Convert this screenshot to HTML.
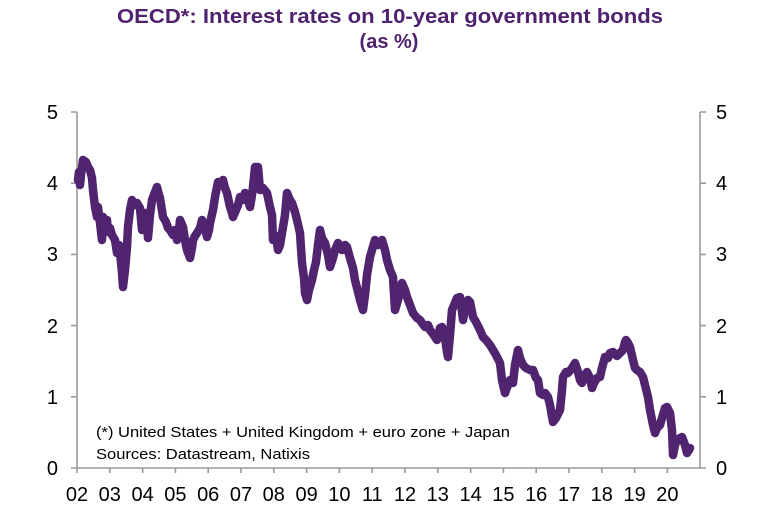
<!DOCTYPE html>
<html><head><meta charset="utf-8"><style>
html,body{margin:0;padding:0;background:#fff;}
svg{display:block;}
</style></head><body>
<svg width="768" height="526" viewBox="0 0 768 526" xmlns="http://www.w3.org/2000/svg" font-family="'Liberation Sans', Arial, sans-serif">
<rect width="768" height="526" fill="#fff"/>
<text x="117" y="23" font-size="20" font-weight="bold" fill="#4f2270" textLength="546" lengthAdjust="spacingAndGlyphs">OECD*:  Interest rates on 10-year government bonds</text>
<text x="389" y="48" font-size="20" font-weight="bold" fill="#4f2270" text-anchor="middle">(as %)</text>
<g stroke="#9a9a9a" stroke-width="1.6" fill="none">
<line x1="77" y1="112" x2="77" y2="468"/>
<line x1="700" y1="112" x2="700" y2="468"/>
<line x1="71" y1="468" x2="706" y2="468"/>
<path d="M71 112H77M71 183.2H77M71 254.4H77M71 325.6H77M71 396.8H77M700 112H706M700 183.2H706M700 254.4H706M700 325.6H706M700 396.8H706"/>
<path d="M77 468V473M109.8 468V473M142.6 468V473M175.4 468V473M208.2 468V473M241 468V473M273.8 468V473M306.6 468V473M339.4 468V473M372.2 468V473M405 468V473M437.8 468V473M470.6 468V473M503.4 468V473M536.2 468V473M569 468V473M601.8 468V473M634.6 468V473M667.4 468V473"/>
</g>
<g font-size="20" fill="#000" text-anchor="end">
<text x="58" y="119">5</text><text x="58" y="190">4</text><text x="58" y="261">3</text><text x="58" y="333">2</text><text x="58" y="404">1</text><text x="58" y="475">0</text>
</g>
<g font-size="20" fill="#000">
<text x="716" y="119">5</text><text x="716" y="190">4</text><text x="716" y="261">3</text><text x="716" y="333">2</text><text x="716" y="404">1</text><text x="716" y="475">0</text>
</g>
<g font-size="20" fill="#000" text-anchor="middle">
<text x="77" y="501">02</text><text x="109.8" y="501">03</text><text x="142.6" y="501">04</text><text x="175.4" y="501">05</text><text x="208.2" y="501">06</text><text x="241" y="501">07</text><text x="273.8" y="501">08</text><text x="306.6" y="501">09</text><text x="339.4" y="501">10</text><text x="372.2" y="501">11</text><text x="405" y="501">12</text><text x="437.8" y="501">13</text><text x="470.6" y="501">14</text><text x="503.4" y="501">15</text><text x="536.2" y="501">16</text><text x="569" y="501">17</text><text x="601.8" y="501">18</text><text x="634.6" y="501">19</text><text x="667.4" y="501">20</text>
</g>
<text x="96" y="437" font-size="15" fill="#000" textLength="414" lengthAdjust="spacingAndGlyphs">(*) United States  + United Kingdom  + euro zone  + Japan</text>
<text x="96" y="459" font-size="15" fill="#000" textLength="214" lengthAdjust="spacingAndGlyphs">Sources:  Datastream,  Natixis</text>
<polyline fill="none" stroke="#51246f" stroke-width="8.5" stroke-linejoin="round" stroke-linecap="round" points="
78,180 79,172 80,185 81,175 83,160 86,162 88,167 90,170 92,178 93,190 95,207 97,217 98,207 100,223 102,240 103,217 105,225 107,220 108,232 110,228 112,235 115,240 117,253 119,245 121,262 122,273 123,287 125,270 127,247 128,227 130,210 132,200 135,205 137,203 140,208 142,230 144,218 145,213 147,225 148,238 150,215 152,200 155,192 157,187 159,195 160,198 163,217 166,222 168,228 170,230 173,235 175,230 177,240 179,230 180,220 183,227 185,240 187,250 190,258 192,248 193,240 195,236 197,233 200,228 202,220 205,228 207,237 209,230 210,223 213,210 215,197 217,187 218,182 221,185 223,180 225,188 227,193 230,207 232,213 233,217 236,210 238,205 240,197 243,200 245,193 248,200 250,207 252,195 253,187 255,167 258,167 260,190 263,188 267,193 270,207 272,215 273,240 276,236 278,250 280,245 282,233 285,215 287,193 290,200 292,203 295,212 297,220 300,233 302,263 304,278 305,293 307,300 309,290 312,280 314,270 316,262 318,245 320,230 322,238 325,243 328,255 330,267 333,258 335,250 338,243 342,250 345,245 347,247 350,258 353,268 355,280 358,292 360,300 363,310 365,295 367,275 370,257 372,250 375,240 378,245 382,240 385,250 387,260 390,270 393,277 395,310 398,300 402,283 405,290 407,297 410,305 413,313 417,318 420,320 422,323 425,327 428,325 430,330 433,334 437,340 440,328 442,327 445,338 447,352 448,357 450,335 452,310 455,303 457,298 460,297 462,312 463,320 465,308 468,300 470,302 473,317 476,322 480,330 483,337 486,340 490,345 493,350 496,355 500,363 502,380 505,393 508,385 510,380 513,383 515,365 518,350 520,358 523,365 526,368 530,370 533,370 536,378 538,380 540,393 543,395 545,393 548,397 550,405 553,422 556,418 560,410 562,390 563,377 566,372 568,373 572,368 575,363 578,372 580,380 582,383 585,375 587,372 590,378 592,388 594,383 597,378 600,377 602,368 605,357 608,358 610,353 613,352 617,356 620,353 623,350 625,342 626,340 628,343 630,347 633,360 635,368 637,370 640,372 643,377 645,385 648,397 650,410 653,425 655,433 657,428 660,425 662,418 665,408 667,407 670,413 672,430 673,455 675,445 677,440 680,438 682,437 685,445 687,453 689,450 690,448"/>
</svg>
</body></html>
